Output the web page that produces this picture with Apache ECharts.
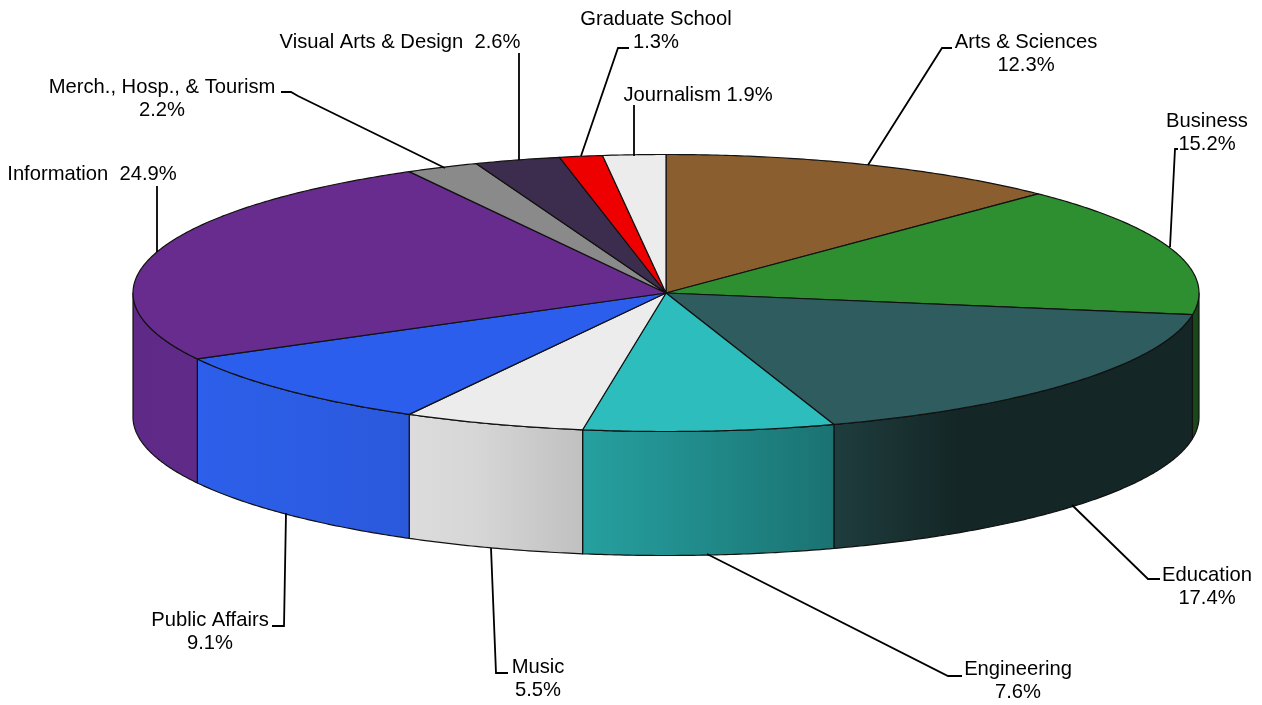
<!DOCTYPE html>
<html><head><meta charset="utf-8">
<style>html,body{margin:0;padding:0;background:#fff}#c{width:1262px;height:705px}</style>
<script src="https://cdn.jsdelivr.net/npm/echarts@6/dist/echarts.min.js"></script>
</head><body><div id="c"></div>
<script>
const categories = ['Arts & Sciences','Business','Education','Engineering','Music','Public Affairs','Information','Merch., Hosp., & Tourism','Visual Arts & Design','Graduate School','Journalism'];
const shares = [12.3,15.2,17.4,7.6,5.5,9.1,24.9,2.2,2.6,1.3,1.9];
const topColors = ['#8b5e30','#2e8f30','#2f5c5e','#2dbdbd','#ececec','#2c5eee','#682c8f','#8a8a8a','#3c2c4e','#ee0000','#ececec'];
const wallColors = [null,
 [[0,'#1a4d1c'],[1,'#174418']],
 [[0,'#1f3d3e'],[0.35,'#142626'],[1,'#142626']],
 [[0,'#26a0a0'],[1,'#1b7272']],
 [[0,'#dcdcdc'],[0.4,'#d6d6d6'],[1,'#c0c0c0']],
 [[0,'#2c5fea'],[1,'#2b59dc']],
 [[0,'#5f2a87'],[1,'#602a88']],null,null,null,null];
const CX=666, CY=293, RX=533, RY=138.5, DEPTH=124;
const labelStyle = [
 {x:1026,y:41,sep:'\n',line:[[868,165],[942,48],[952,48]]},
 {x:1207,y:120,sep:'\n',line:[[1170,247],[1175,149],[1178,149]]},
 {x:1207,y:574,sep:'\n',line:[[1072,505],[1148,579],[1160,579]]},
 {x:1018,y:668,sep:'\n',line:[[707,554],[948,676],[962,676]]},
 {x:538,y:666,sep:'\n',line:[[491,548],[496,673],[508,673]]},
 {x:210,y:619,sep:'\n',line:[[286,513],[284,626],[272,626]]},
 {x:92,y:173,sep:'  ',line:[[157,252],[157,186]]},
 {x:162,y:86,sep:'\n',line:[[445,168],[298,96],[291,92],[281,92]]},
 {x:400,y:41,sep:'  ',line:[[519,160],[519,53]]},
 {x:656,y:18,sep:'\n',line:[[581,156],[618,48],[629,48]]},
 {x:698,y:94,sep:' ',line:[[634,156],[634,105]]}
];
const total = shares.reduce((a,b)=>a+b,0);
const starts = []; shares.reduce((a,v,i)=>{starts[i]=a;return a+v;},0);
const pt=(deg,dy)=>{const r=deg*Math.PI/180;return [CX+RX*Math.sin(r),CY-RY*Math.cos(r)+(dy||0)];};
const arc=(a,b,dy)=>{const n=Math.max(2,Math.ceil(Math.abs(b-a)/0.5)),o=[];for(let k=0;k<=n;k++)o.push(pt(a+(b-a)*k/n,dy));return o;};
function renderItem(params,api){
  const i=params.dataIndex, v=api.value(1);
  const a=starts[i]/total*360, b=a+v/total*360;
  const kids=[];
  const w0=Math.max(a,90), w1=Math.min(b,270);
  if(w1>w0 && wallColors[i]){
    const pts=arc(w0,w1,0).concat(arc(w1,w0,DEPTH));
    kids.push({type:'polygon',shape:{points:pts},style:{
      fill:new echarts.graphic.LinearGradient(0,0,1,0,wallColors[i].map(s=>({offset:s[0],color:s[1]}))),
      stroke:'#111',lineWidth:1.2,lineJoin:'round'}});
  }
  kids.push({type:'polygon',shape:{points:[[CX,CY]].concat(arc(a,b,0))},style:{fill:topColors[i],stroke:'#111',lineWidth:1.2,lineJoin:'round'}});
  const L=labelStyle[i];
  kids.push({type:'polyline',shape:{points:L.line},style:{fill:null,stroke:'#000',lineWidth:1.8},z2:5});
  const multi=L.sep==='\n';
  kids.push({type:'text',z2:6,style:{x:L.x,y:multi?L.y-10.5:L.y+1,text:categories[i]+L.sep+v.toFixed(1)+'%',align:'center',verticalAlign:multi?'top':'middle',fill:'#000',
    font:'20.2px "Liberation Sans", Arial, sans-serif',lineHeight:23}});
  return {type:'group',children:kids};
}
const chart=echarts.init(document.getElementById('c'),null,{renderer:'canvas'});
chart.setOption({animation:false,backgroundColor:'#fff',
  series:[{type:'custom',coordinateSystem:'none',renderItem,silent:true,
    data:shares.map((v,i)=>({name:categories[i],value:[i,v]}))}]});
</script></body></html>
